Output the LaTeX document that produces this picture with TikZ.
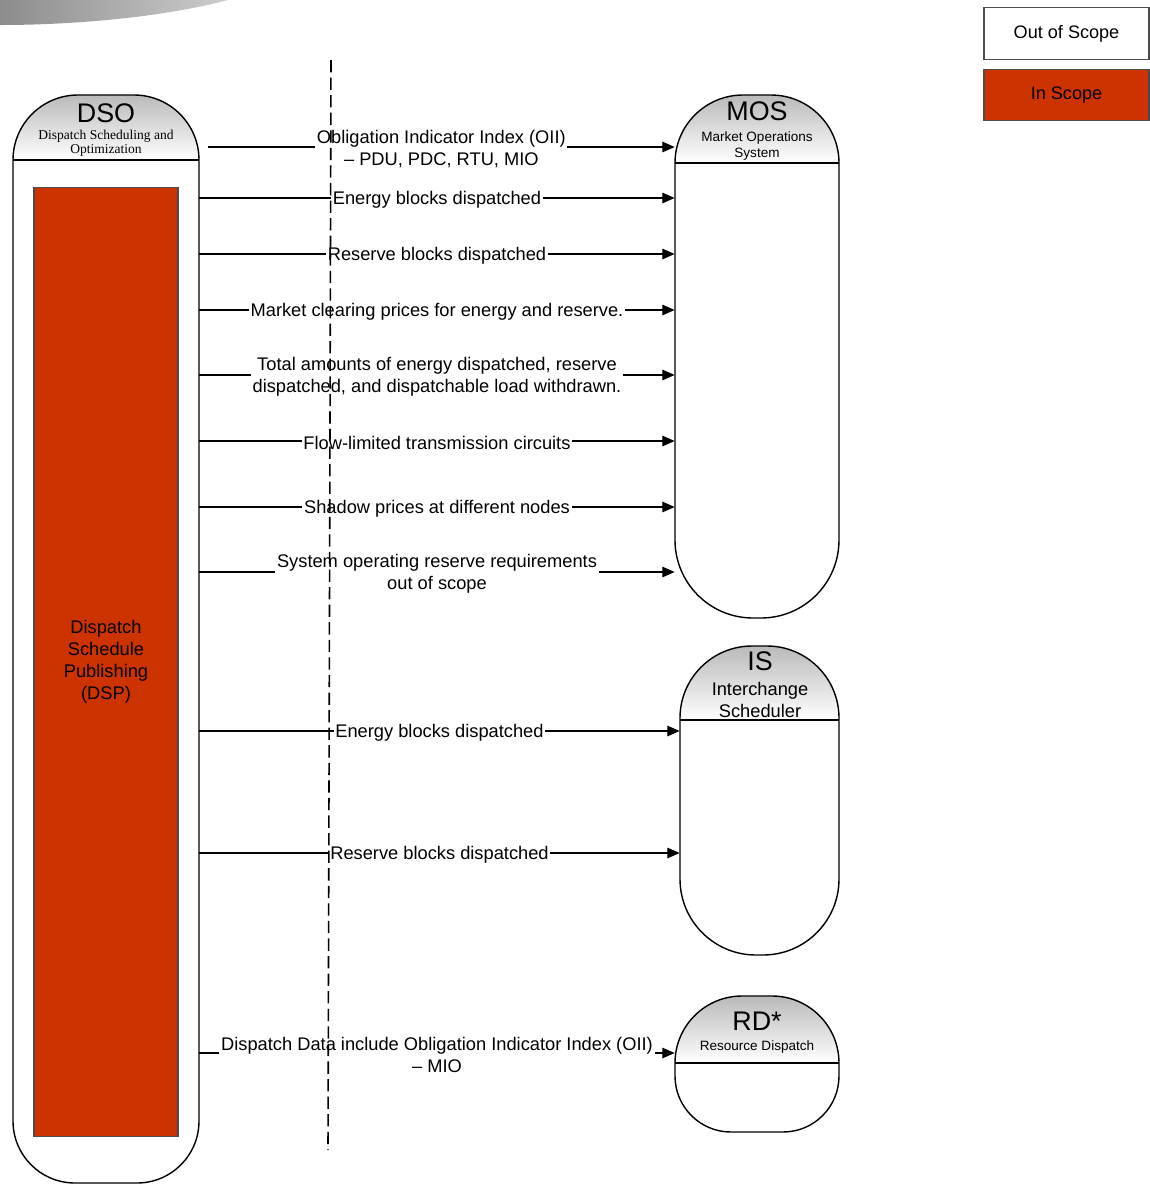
\documentclass[tikz,border=0pt]{standalone}
\usepackage{fontspec}
\setmainfont{Liberation Sans}
\newfontfamily\timesfont{Liberation Serif}
\usetikzlibrary{arrows.meta}
\definecolor{scopered}{RGB}{204,51,0}

% swimlane: name, left x, right x, top y, divider y, bottom y, top radius, bottom radius (all in px)
\newcommand{\lane}[8]{%
  \shade[top color=black!27, bottom color=white]
    (#2,-#5) -- (#2,{-#4-#7}) arc[start angle=180, end angle=90, radius={#7*0.02cm}]
    -- ({#3-#7},-#4) arc[start angle=90, end angle=0, radius={#7*0.02cm}] -- (#3,-#5) -- cycle;
  \draw[laneline] (#2,{-#4-#7}) arc[start angle=180, end angle=90, radius={#7*0.02cm}]
    -- ({#3-#7},-#4) arc[start angle=90, end angle=0, radius={#7*0.02cm}]
    -- (#3,{-#6+#8}) arc[start angle=0, end angle=-90, radius={#8*0.02cm}]
    -- ({#2+#8},-#6) arc[start angle=-90, end angle=-180, radius={#8*0.02cm}] -- cycle;
  \draw[laneline] (#2,-#5) -- (#3,-#5);
  \node[inner sep=0pt, minimum width={(#3-#2)*0.02cm}, minimum height={(#6-#4)*0.02cm}] (#1)
    at ({(#2+#3)/2},{-(#4+#6)/2}) {};
}

\tikzset{
  laneline/.style={draw=black, line width=0.8pt},
  flow/.style={draw=black, line width=0.6pt, -{Triangle[length=7pt,width=6pt]}},
  msg/.style={fill=white, inner sep=1pt, yshift=-1pt, align=center, font=\fontsize{10.4}{12.5}\selectfont},
  lanetitle/.style={inner sep=0pt, font=\fontsize{15.3}{15}\selectfont},
  lanesub/.style={inner sep=0pt, align=center, font=\fontsize{7.7}{9.6}\selectfont},
  legendbox/.style={draw=black!70, line width=0.6pt, minimum width=3.3cm, minimum height=1.03cm, font=\fontsize{10.3}{12}\selectfont},
  divider/.style={draw=black, line width=0.9pt, dash pattern=on 7pt off 3pt},
}

\begin{document}
\begin{tikzpicture}[x=0.02cm, y=0.02cm]
  \useasboundingbox (0,0) rectangle (1150,-1184);

  % banner swoosh
  \shade[left color=black!45, right color=black!20] (0,0) -- (228,0) .. controls (160,-18) and (70,-25) .. (0,-25) -- cycle;

  % legend
  \node[legendbox, fill=white] (outscope) at (1066.5,-33.5) {Out of Scope};
  \node[legendbox, fill=scopered] (inscope) at (1066.5,-95) {In Scope};

  % lanes
  \lane{dso}{13}{199}{95}{160}{1183}{65}{62}
  \lane{mos}{675}{839}{95}{163}{618}{68}{78}
  \lane{is}{680}{839}{646}{720}{955}{72}{76}
  \lane{rd}{675}{839}{996}{1063}{1132}{67}{56}

  \node[lanetitle] (dso-title) at (106,-113) {DSO};
  \node[lanesub, font=\timesfont\fontsize{7.7}{8}\selectfont] (dso-sub) at (106,-143) {Dispatch Scheduling and\\Optimization};
  \node[lanetitle] (mos-title) at (757,-111) {MOS};
  \node[lanesub] (mos-sub) at (757,-146) {Market Operations\\System};
  \node[lanetitle] (is-title) at (760,-661) {IS};
  \node[lanesub, font=\fontsize{10.4}{12.5}\selectfont] (is-sub) at (760,-700) {Interchange\\Scheduler};
  \node[lanetitle] (rd-title) at (757,-1021) {RD*};
  \node[lanesub] (rd-sub) at (757,-1047) {Resource Dispatch};

  \node[draw=black!70, line width=0.6pt, fill=scopered, minimum width=2.88cm, minimum height=19cm,
        align=center, font=\fontsize{10.4}{12.5}\selectfont] (dsp) at (106,-662)
        {Dispatch\\Schedule\\Publishing\\(DSP)};

  % messages to MOS
  \coordinate (oii-start) at (208,-147);
  \draw[flow] (oii-start) -- (mos.west |- oii-start)
    node[midway, msg] {Obligation Indicator Index (OII)\\– PDU, PDC, RTU, MIO};
  \draw[flow] (dso.east |- 0,-198) -- (mos.west |- 0,-198) node[midway, msg] {Energy blocks dispatched};
  \draw[flow] (dso.east |- 0,-254) -- (mos.west |- 0,-254) node[midway, msg] {Reserve blocks dispatched};
  \draw[flow] (dso.east |- 0,-310) -- (mos.west |- 0,-310) node[midway, msg] {Market clearing prices for energy and reserve.};
  \draw[flow] (dso.east |- 0,-375) -- (mos.west |- 0,-375)
    node[midway, msg] {Total amounts of energy dispatched, reserve\\dispatched, and dispatchable load withdrawn.};
  \draw[flow] (dso.east |- 0,-441) -- (mos.west |- 0,-441) node[midway, msg] {Flow-limited transmission circuits};
  \draw[flow] (dso.east |- 0,-507) -- (mos.west |- 0,-507) node[midway, msg] {Shadow prices at different nodes};
  \draw[flow] (dso.east |- 0,-572) -- (mos.west |- 0,-572)
    node[midway, msg] {System operating reserve requirements\\out of scope};

  % messages to IS
  \draw[flow] (dso.east |- 0,-731) -- (is.west |- 0,-731) node[midway, msg] {Energy blocks dispatched};
  \draw[flow] (dso.east |- 0,-853) -- (is.west |- 0,-853) node[midway, msg] {Reserve blocks dispatched};

  % message to RD
  \draw[flow] (dso.east |- 0,-1053) -- (rd.west |- 0,-1053)
    node[midway, msg] {Dispatch Data include Obligation Indicator Index (OII)\\– MIO};

  % scope boundary
  \coordinate (bound-top) at (331,-60);
  \coordinate (bound-bot) at (328,-1150);
  \draw[divider] (bound-top) -- (bound-bot);
\end{tikzpicture}
\end{document}
